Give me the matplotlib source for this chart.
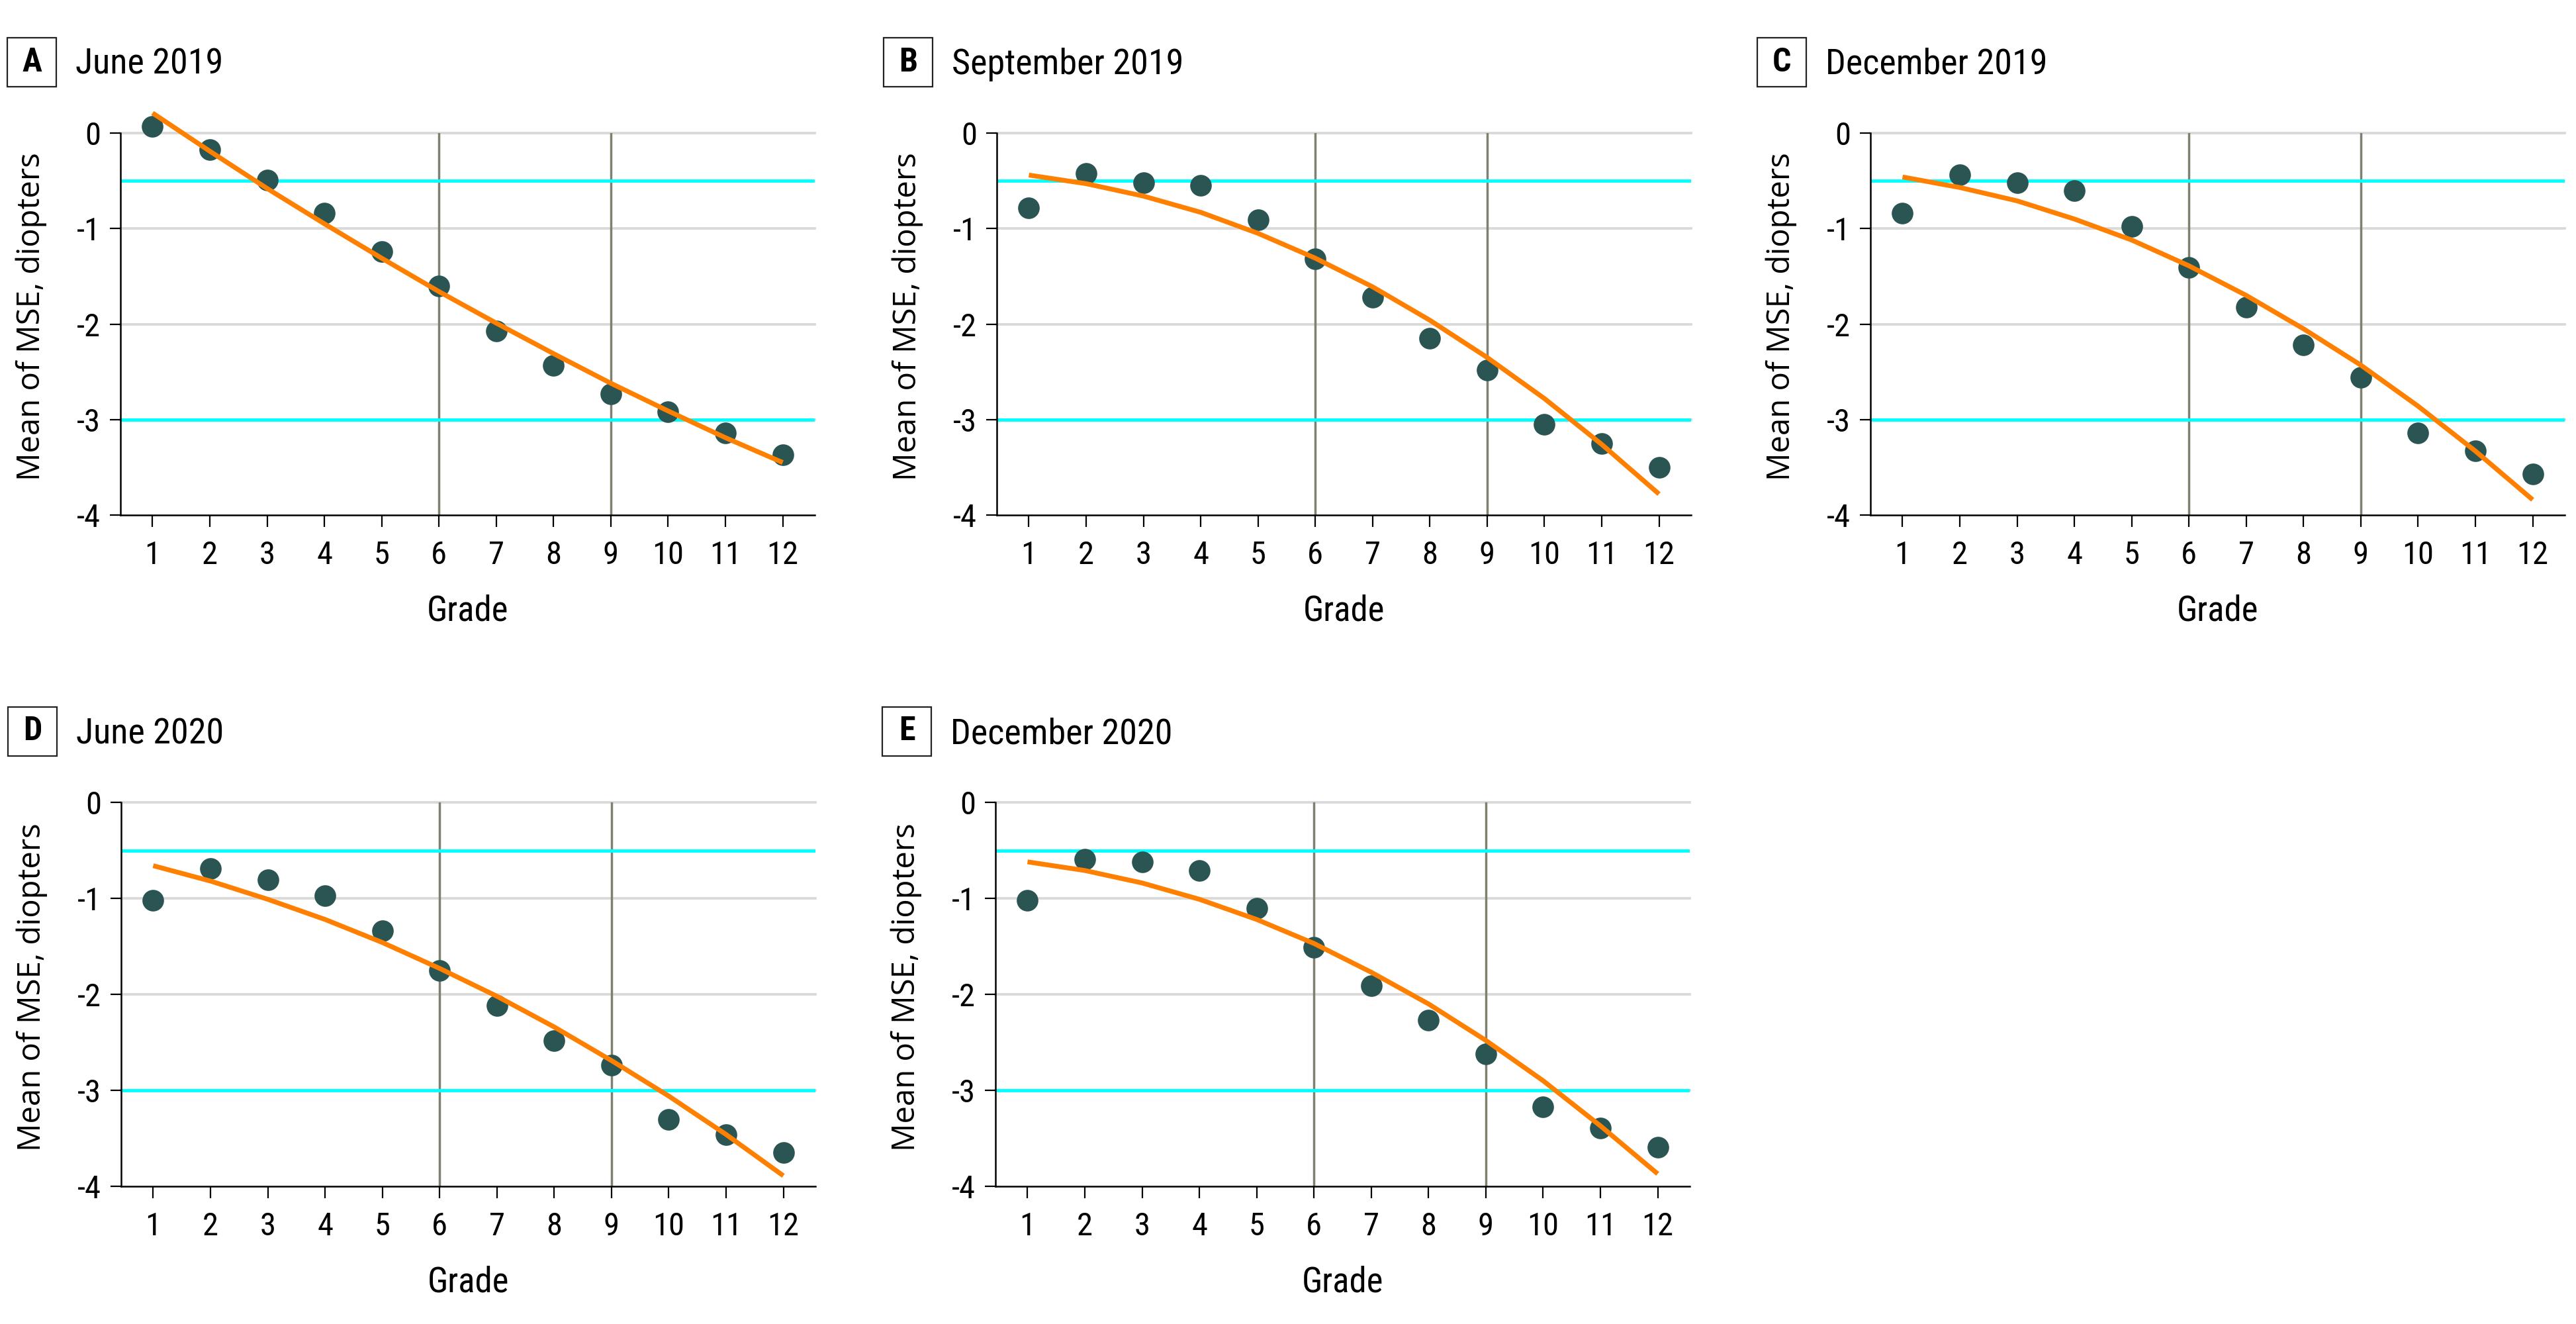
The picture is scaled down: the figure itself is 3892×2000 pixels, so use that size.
import matplotlib
matplotlib.use("Agg")
import matplotlib.pyplot as plt
from matplotlib.patches import Rectangle

# ---------------- data ----------------
grades = [1, 2, 3, 4, 5, 6, 7, 8, 9, 10, 11, 12]
grade_labels = ["1", "2", "3", "4", "5", "6", "7", "8", "9", "10", "11", "12"]
y_ticks = [0, -1, -2, -3, -4]
y_tick_labels = ["0", "-1", "-2", "-3", "-4"]

panel_letters = ["A", "B", "C", "D", "E"]
panel_titles = ["June 2019", "September 2019", "December 2019", "June 2020", "December 2020"]

mse_jun2019 = [0.07, -0.17, -0.49, -0.84, -1.24, -1.60, -2.07, -2.43, -2.73, -2.92, -3.14, -3.37]
mse_sep2019 = [-0.78, -0.42, -0.52, -0.55, -0.91, -1.32, -1.72, -2.15, -2.48, -3.05, -3.25, -3.50]
mse_dec2019 = [-0.84, -0.44, -0.52, -0.60, -0.98, -1.41, -1.82, -2.22, -2.56, -3.14, -3.33, -3.57]
mse_jun2020 = [-1.02, -0.69, -0.81, -0.97, -1.34, -1.75, -2.12, -2.48, -2.74, -3.30, -3.46, -3.65]
mse_dec2020 = [-1.02, -0.59, -0.62, -0.71, -1.10, -1.51, -1.91, -2.27, -2.62, -3.17, -3.39, -3.59]

fit_jun2019 = [0.21, -0.19, -0.58, -0.95, -1.31, -1.66, -1.99, -2.31, -2.62, -2.91, -3.19, -3.45]
fit_sep2019 = [-0.44, -0.53, -0.66, -0.83, -1.05, -1.31, -1.61, -1.96, -2.35, -2.78, -3.26, -3.78]
fit_dec2019 = [-0.46, -0.57, -0.71, -0.90, -1.12, -1.39, -1.70, -2.05, -2.43, -2.86, -3.33, -3.84]
fit_jun2020 = [-0.66, -0.82, -1.01, -1.22, -1.46, -1.73, -2.02, -2.34, -2.69, -3.06, -3.46, -3.89]
fit_dec2020 = [-0.62, -0.71, -0.84, -1.01, -1.22, -1.47, -1.77, -2.10, -2.48, -2.90, -3.37, -3.87]

myopia_thresholds = [-0.5, -3.0]     # cyan reference lines
grade_markers = [6, 9]               # vertical reference lines

series = [mse_jun2019, mse_sep2019, mse_dec2019, mse_jun2020, mse_dec2020]
fits = [fit_jun2019, fit_sep2019, fit_dec2019, fit_jun2020, fit_dec2020]

# ---------------- style ----------------
COND = ["Roboto Condensed", "Fira Sans Condensed", "PT Sans Narrow",
        "Barlow Semi Condensed", "Liberation Sans Narrow", "DejaVu Sans"]
WIDE = ["Open Sans", "DejaVu Sans"]
DOT = "#2a5552"
ORANGE = "#ff7f00"
CYAN = "#00ffff"
GRID = "#d9d9d9"
VLINE = "#808070"

W, H = 3892, 2000
DPI = 100
fig = plt.figure(figsize=(W / DPI, H / DPI), dpi=DPI)

# axes rectangles in pixels: (left, top, right, bottom)
rects_px = [
    (182, 201, 1231, 778),
    (1506, 201, 2555, 778),
    (2826, 201, 3875, 778),
    (183, 1212, 1232, 1792),
    (1504, 1212, 2553, 1792),
]

for i, (l, t, r, b) in enumerate(rects_px):
    ax = fig.add_axes([l / W, 1 - b / H, (r - l) / W, (b - t) / H])
    ax.set_xlim(0.44, 12.56)
    ax.set_ylim(-4, 0)

    for yv in [0, -1, -2, -3]:
        ax.axhline(yv, color=GRID, lw=2.7, zorder=1, clip_on=False)
    for xv in grade_markers:
        ax.axvline(xv, color=VLINE, lw=2.5, zorder=2)
    for yv in myopia_thresholds:
        ax.axhline(yv, color=CYAN, lw=3.5, zorder=3)

    ax.plot(grades, series[i], linestyle="none", marker="o", markersize=23.5,
            markerfacecolor=DOT, markeredgewidth=0, color=DOT, zorder=4, clip_on=False)
    ax.plot(grades, fits[i], color=ORANGE, lw=5.2, zorder=5, clip_on=False,
            solid_capstyle="butt")

    for side in ["top", "right"]:
        ax.spines[side].set_visible(False)
    for side in ["left", "bottom"]:
        ax.spines[side].set_linewidth(1.8)
        ax.spines[side].set_color("black")
        ax.spines[side].set_zorder(6)

    ax.set_xticks(grades)
    ax.set_xticklabels(grade_labels, family=COND, fontsize=35)
    ax.set_yticks(y_ticks)
    ax.set_yticklabels(y_tick_labels, family=COND, fontsize=35)
    ax.tick_params(axis="x", length=13, width=1.6, pad=14, direction="out")
    ax.tick_params(axis="y", length=11.5, width=1.6, pad=10, direction="out")

    ax.text(-0.1287, 0.519, "Mean of MSE, diopters", transform=ax.transAxes,
            rotation=90, ha="center", va="center", family=WIDE, fontsize=34)
    ax.text(0.5, -0.2756, "Grade", transform=ax.transAxes, ha="center",
            va="baseline", family=COND, fontsize=38)

    # panel letter box and title
    bx0, bx1 = l - 171, l - 97
    by0, by1 = t - 144, t - 70
    fig.patches.append(Rectangle((bx0 / W, 1 - by1 / H), (bx1 - bx0) / W, (by1 - by0) / H,
                                 transform=fig.transFigure, fill=False,
                                 edgecolor="#222222", lw=1.6))
    fig.text(((bx0 + bx1) / 2) / W, 1 - ((by0 + by1) / 2) / H, panel_letters[i],
             ha="center", va="center", family=COND, fontweight="bold", fontsize=36)
    fig.text((l - 68) / W, 1 - (t - 89) / H, panel_titles[i], ha="left",
             va="baseline", family=COND, fontsize=39)

fig.savefig("out.png", dpi=DPI, facecolor="white")
